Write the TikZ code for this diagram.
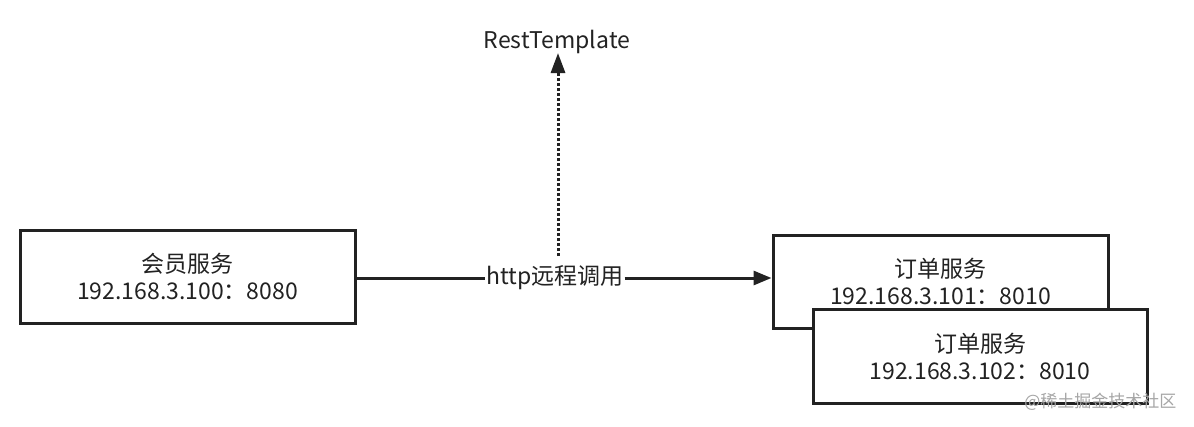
\documentclass[tikz,border=0pt]{standalone}
\usepackage{fontspec}
\setmainfont{Noto Sans CJK SC}
\usetikzlibrary{arrows.meta}
\definecolor{ink}{HTML}{222222}
\tikzset{
  svcbox/.style={draw=ink, line width=3pt, fill=white, inner sep=0pt, align=center, font=\fontsize{23}{27}\selectfont, text=ink},
  conn/.style={draw=ink, line width=3pt},
  tip/.style={-{Triangle[length=18pt,width=14pt]}},
  lbl/.style={font=\fontsize{23}{26}\selectfont, text=ink, inner sep=1pt}
}
\begin{document}
\begin{tikzpicture}[x=1pt,y=-1pt]
\useasboundingbox[fill=white] (0,0) rectangle (1194,426);
\node[svcbox, minimum width=335pt, minimum height=93pt] (m) at (187.5,276.5) {会员服务\\192.168.3.100：8080};
\node[svcbox, minimum width=335pt, minimum height=93pt] (o1) at (940.5,281.5) {订单服务\\192.168.3.101：8010};
\node[svcbox, minimum width=334pt, minimum height=94pt] (o2) at (980,356) {订单服务\\192.168.3.102：8010};
\node[lbl, fill=white] (h) at (555,278) {http远程调用};
\node[lbl] (rt) at (557,42) {RestTemplate};
\coordinate (ds) at (558,256);
\coordinate (dt) at (558,53);
\draw[conn] (m.east |- h) -- (h.west);
\draw[conn, tip] (h.east) -- (o1.west |- h);
\draw[draw=ink, line width=3pt, dotted, -{Triangle[length=20pt,width=14pt]}] (ds) -- (dt);
\node[font=\fontsize{17}{20}\selectfont, text=black!35, anchor=east] (wm) at (1180,402) {@稀土掘金技术社区};
\end{tikzpicture}
\end{document}
